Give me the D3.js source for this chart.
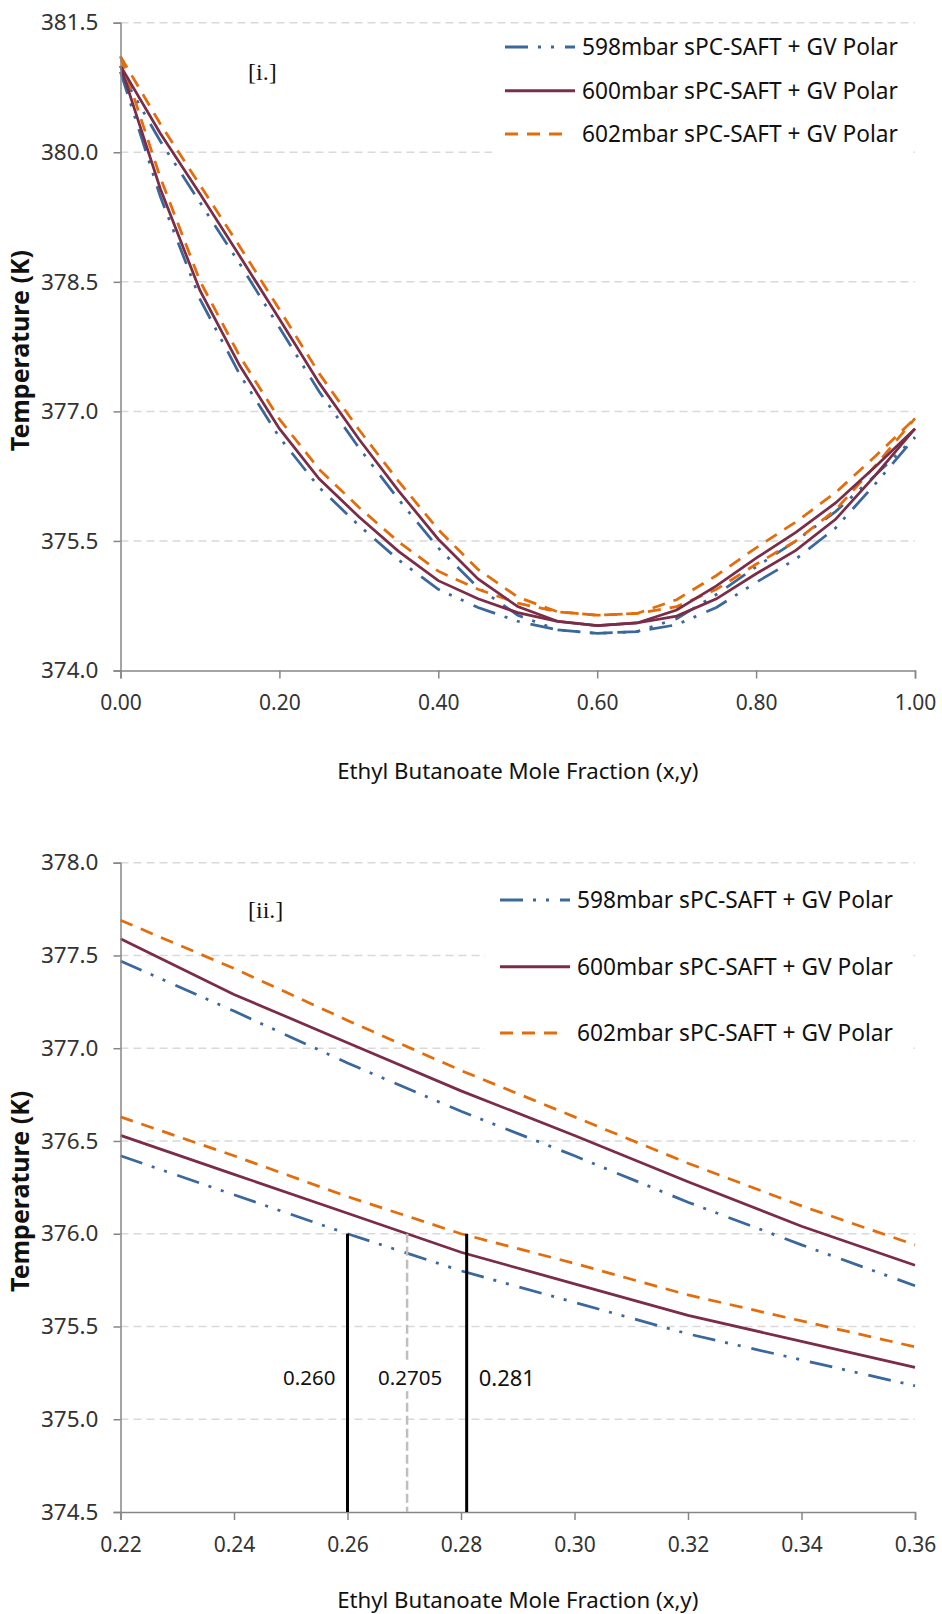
<!DOCTYPE html>
<html>
<head>
<meta charset="utf-8">
<script src="https://cdn.jsdelivr.net/npm/d3@7/dist/d3.min.js"></script>
<style>
body { margin: 0; background: #fff; }
svg { display: block; font-family: "Noto Sans", "Open Sans", sans-serif; }
</style>
</head>
<body>
<div id="chart"></div>
<script>
// panel [i.] full composition range
var xTop = [0, 0.05, 0.1, 0.15, 0.2, 0.25, 0.3, 0.35, 0.4, 0.45, 0.5, 0.55, 0.6, 0.65, 0.7, 0.75, 0.8, 0.85, 0.9, 0.95, 1.0];
var top598Dew = [380.93, 380.13, 379.42, 378.71, 377.97, 377.23, 376.58, 375.98, 375.42, 374.96, 374.64, 374.47, 374.43, 374.45, 374.60, 374.88, 375.20, 375.50, 375.84, 376.26, 376.70];
var top598Bub = [380.93, 379.49, 378.30, 377.43, 376.70, 376.12, 375.68, 375.28, 374.94, 374.73, 374.57, 374.47, 374.43, 374.45, 374.53, 374.73, 375.02, 375.29, 375.65, 376.16, 376.70];
var top600Dew = [381.00, 380.22, 379.52, 378.80, 378.07, 377.33, 376.68, 376.08, 375.52, 375.06, 374.74, 374.57, 374.52, 374.55, 374.70, 374.98, 375.30, 375.60, 375.94, 376.36, 376.80];
var top600Bub = [381.00, 379.58, 378.40, 377.53, 376.80, 376.22, 375.78, 375.38, 375.04, 374.83, 374.67, 374.57, 374.52, 374.55, 374.63, 374.83, 375.12, 375.39, 375.75, 376.26, 376.80];
var top602Dew = [381.11, 380.33, 379.62, 378.91, 378.18, 377.44, 376.79, 376.19, 375.63, 375.17, 374.85, 374.68, 374.64, 374.66, 374.82, 375.10, 375.42, 375.72, 376.06, 376.48, 376.92];
var top602Bub = [381.11, 379.71, 378.51, 377.64, 376.91, 376.33, 375.89, 375.49, 375.15, 374.94, 374.78, 374.68, 374.64, 374.66, 374.74, 374.94, 375.23, 375.50, 375.86, 376.37, 376.92];

// panel [ii.] zoom 0.22 - 0.36
var xBot = [0.22, 0.24, 0.26, 0.28, 0.30, 0.32, 0.34, 0.36];
var bot598Dew = [377.47, 377.20, 376.92, 376.66, 376.42, 376.17, 375.94, 375.72];
var bot598Bub = [376.42, 376.21, 376.00, 375.80, 375.63, 375.46, 375.32, 375.18];
var bot600Dew = [377.59, 377.29, 377.03, 376.77, 376.53, 376.28, 376.04, 375.83];
var bot600Bub = [376.53, 376.32, 376.11, 375.90, 375.73, 375.56, 375.42, 375.28];
var bot602Dew = [377.69, 377.43, 377.15, 376.88, 376.63, 376.38, 376.15, 375.94];
var bot602Bub = [376.63, 376.42, 376.20, 376.00, 375.84, 375.67, 375.53, 375.39];

var seriesNames = ["598mbar sPC-SAFT + GV Polar", "600mbar sPC-SAFT + GV Polar", "602mbar sPC-SAFT + GV Polar"];

var topXTicks = [0, 0.2, 0.4, 0.6, 0.8, 1.0];
var topYTicks = [374.0, 375.5, 377.0, 378.5, 380.0, 381.5];
var botXTicks = [0.22, 0.24, 0.26, 0.28, 0.30, 0.32, 0.34, 0.36];
var botYTicks = [374.5, 375.0, 375.5, 376.0, 376.5, 377.0, 377.5, 378.0];

var markerX = [0.260, 0.2705, 0.281];
var markerLabels = ["0.260", "0.2705", "0.281"];
var markerTop = 376.0;

var styles = [
    {color: "#3a679c", dash: "23,10,3,10,3,11", legendLen: 70},
    {color: "#7b2c47", dash: null, legendLen: 70},
    {color: "#e46c0a", dash: "13,9", legendLen: 57}
];

var svg = d3.select("#chart").append("svg")
    .attr("width", 942)
    .attr("height", 1614);

function drawPanel(p){
    var g = svg.append("g");
    var x = d3.scaleLinear().domain(p.xDomain).range([120.5, 915]);
    var y = d3.scaleLinear().domain(p.yDomain).range([p.bottom, p.top]);

    // gridlines
    g.selectAll(".grid")
        .data(p.yTicks.slice(1))
        .enter().append("line")
        .attr("x1", 120.5).attr("x2", 915)
        .attr("y1", function(d){ return y(d); })
        .attr("y2", function(d){ return y(d); })
        .style("stroke", "#d9d9d9")
        .style("stroke-width", 1.5)
        .style("stroke-dasharray", "8,5");

    var line = d3.line()
        .curve(d3.curveLinear)
        .x(function(d){ return x(d[0]); })
        .y(function(d){ return y(d[1]); });

    for(var i in p.series){
        var s = p.series[i];
        var st = styles[s.style];
        g.append("path")
            .datum(p.xs.map(function(v, j){ return [v, s.values[j]]; }))
            .attr("d", line)
            .style("fill", "none")
            .style("stroke", st.color)
            .style("stroke-width", 2.75)
            .style("stroke-dasharray", st.dash);
    }

    // axes
    var yAxis = g.append("g")
        .attr("transform", "translate(120.5,0)")
        .call(d3.axisLeft(y).tickValues(p.yTicks).tickFormat(d3.format(".1f")).tickSizeOuter(0).tickSize(7).tickPadding(15));
    var xAxis = g.append("g")
        .attr("transform", "translate(0," + p.bottom + ")")
        .call(d3.axisBottom(x).tickValues(p.xTicks).tickFormat(d3.format(".2f")).tickSizeOuter(0).tickSize(8).tickPadding(17));
    g.selectAll(".domain, .tick line")
        .style("stroke", "#868686")
        .style("stroke-width", 1.5);
    g.selectAll(".tick text")
        .style("font-family", "'Noto Sans', sans-serif")
        .style("fill", "#333");
    yAxis.selectAll(".tick text").style("font-size", "22.5px");
    xAxis.selectAll(".tick text").style("font-size", "21px");

    g.append("text")
        .attr("transform", "translate(29," + ((p.top + p.bottom) / 2 + 4) + ") rotate(-90)")
        .attr("text-anchor", "middle")
        .style("font-size", "25px")
        .style("font-weight", "bold")
        .style("fill", "#111")
        .text("Temperature (K)");

    g.append("text")
        .attr("x", (120.5 + 915) / 2)
        .attr("y", p.xTitleY)
        .attr("text-anchor", "middle")
        .style("font-size", "22.2px")
        .style("fill", "#111")
        .text("Ethyl Butanoate Mole Fraction (x,y)");

    g.append("text")
        .attr("x", 248)
        .attr("y", p.tagY)
        .style("font-family", "'Liberation Serif', serif")
        .style("font-size", "24px")
        .style("fill", "#111")
        .text(p.tag);

    // legend
    var lg = g.append("g");
    lg.append("rect")
        .attr("x", p.legend.x0).attr("y", p.legend.y0)
        .attr("width", 913 - p.legend.x0).attr("height", p.legend.h)
        .style("fill", "#fff");
    for(var k = 0; k < 3; k++){
        var ly = p.legend.rows[k];
        lg.append("line")
            .attr("x1", p.legend.lx).attr("x2", p.legend.lx + styles[k].legendLen)
            .attr("y1", ly).attr("y2", ly)
            .style("stroke", styles[k].color)
            .style("stroke-width", 3)
            .style("stroke-dasharray", styles[k].dash);
        lg.append("text")
            .attr("x", p.legend.tx).attr("y", ly)
            .attr("dy", "0.35em")
            .style("font-size", "22.7px")
            .style("fill", "#111")
            .text(seriesNames[k]);
    }
    return {x: x, y: y, g: g};
}

drawPanel({
    xDomain: [0, 1], yDomain: [374.0, 381.5], top: 22.7, bottom: 670.5,
    xTicks: topXTicks, yTicks: topYTicks, xs: xTop,
    series: [
        {style: 0, values: top598Dew}, {style: 0, values: top598Bub},
        {style: 2, values: top602Dew}, {style: 2, values: top602Bub},
        {style: 1, values: top600Dew}, {style: 1, values: top600Bub}
    ],
    xTitleY: 779, tag: "[i.]", tagY: 80,
    legend: {x0: 492, y0: 28, h: 132, lx: 505, tx: 582, rows: [47, 90.7, 134]}
});

var bot = drawPanel({
    xDomain: [0.22, 0.36], yDomain: [374.5, 378.0], top: 862.7, bottom: 1512,
    xTicks: botXTicks, yTicks: botYTicks, xs: xBot,
    series: [
        {style: 0, values: bot598Dew}, {style: 0, values: bot598Bub},
        {style: 2, values: bot602Dew}, {style: 2, values: bot602Bub},
        {style: 1, values: bot600Dew}, {style: 1, values: bot600Bub}
    ],
    xTitleY: 1608, tag: "[ii.]", tagY: 918,
    legend: {x0: 485, y0: 870, h: 190, lx: 500, tx: 577, rows: [900, 966.7, 1033]}
});

// composition markers in panel [ii.]
bot.g.selectAll(".marker")
    .data(markerX)
    .enter().append("line")
    .attr("x1", function(d){ return bot.x(d); })
    .attr("x2", function(d){ return bot.x(d); })
    .attr("y1", bot.y(markerTop))
    .attr("y2", bot.y(374.5))
    .style("stroke", function(d, i){ return i == 1 ? "#bfbfbf" : "#000"; })
    .style("stroke-width", function(d, i){ return i == 1 ? 2.5 : 3; })
    .style("stroke-dasharray", function(d, i){ return i == 1 ? "9,4" : null; });

var labelPos = [
    {dx: -12, anchor: "end"},
    {dx: 3, anchor: "middle"},
    {dx: 12, anchor: "start"}
];
for(var m = 0; m < markerX.length; m++){
    var t = bot.g.append("text")
        .attr("x", bot.x(markerX[m]) + labelPos[m].dx)
        .attr("y", 1378)
        .attr("dy", "0.35em")
        .attr("text-anchor", labelPos[m].anchor)
        .style("font-size", m == 2 ? "22px" : "20.5px")
        .style("fill", "#111")
        .text(markerLabels[m]);
    if(m == 1){
        var bb = t.node().getBBox();
        bot.g.insert("rect", function(){ return t.node(); })
            .attr("x", bb.x - 2).attr("y", bb.y)
            .attr("width", bb.width + 4).attr("height", bb.height)
            .style("fill", "#fff");
    }
}
</script>
</body>
</html>
